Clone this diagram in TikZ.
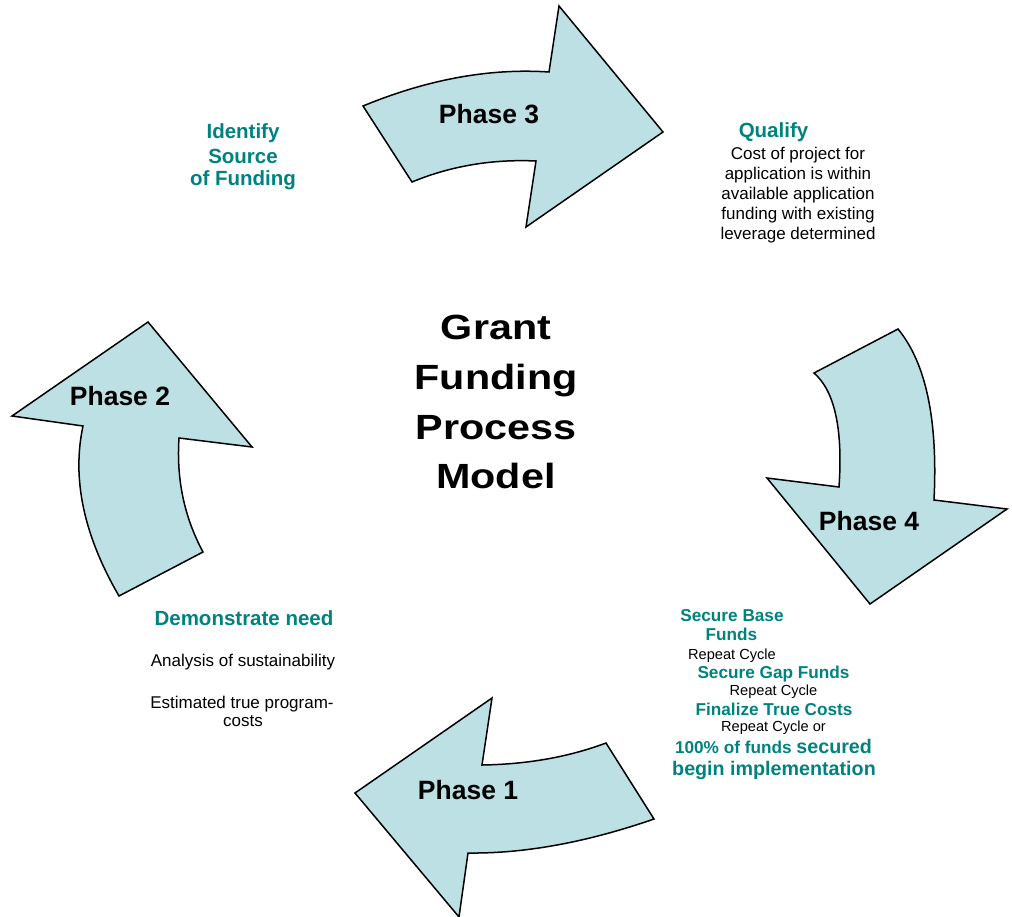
\documentclass[tikz,border=0pt]{standalone}
\usepackage{fontspec}
\setmainfont{Liberation Sans}
\definecolor{tealtxt}{RGB}{0,130,126}
\definecolor{arrowfill}{RGB}{188,224,227}
\begin{document}
\begin{tikzpicture}[x=1pt,y=-1pt,
  phasearrow/.style={draw=black, line width=1.5pt, fill=arrowfill, line join=miter},
  phaselabel/.style={anchor=base, font=\fontsize{26.5}{30}\selectfont\bfseries, inner sep=0pt},
  titleline/.style={anchor=base, font=\fontsize{35}{40}\selectfont\bfseries, inner sep=0pt},
  headtxt/.style={anchor=base, text=tealtxt, font=\fontsize{20.5}{24}\selectfont\bfseries, inner sep=0pt},
  bodytxt/.style={anchor=base, font=\fontsize{17}{20}\selectfont, inner sep=0pt},
  subhead/.style={anchor=base, text=tealtxt, font=\fontsize{17.2}{20}\selectfont\bfseries, inner sep=0pt},
  smalltxt/.style={anchor=base, font=\fontsize{14.6}{17}\selectfont, inner sep=0pt}]
\useasboundingbox (0,0) rectangle (1012,917);

% Phase 3 arrow (top, pointing right)
\draw[phasearrow] (363,106) .. controls (427.7,79.3) and (489.7,68) .. (549,72)
  -- (559,6) -- (663,132) -- (526,227) -- (536,161)
  .. controls (492,159) and (450.7,166) .. (412,182) -- cycle;
% Phase 4 arrow (right, pointing down)
\draw[phasearrow] (814,373) -- (898,329) .. controls (926,363) and (938,420) .. (934,500)
  -- (1007,509) -- (870,604) -- (767,478) -- (839,487)
  .. controls (843,429) and (834.7,391) .. (814,373) -- cycle;
% Phase 1 arrow (bottom, pointing left)
\draw[phasearrow] (606,743) -- (654,819) .. controls (586.7,842.3) and (524.7,853.7) .. (468,853)
  -- (459,917) -- (355,793) -- (492,698) -- (482,765)
  .. controls (527.3,764.3) and (568.7,757) .. (606,743) -- cycle;
% Phase 2 arrow (left, pointing up)
\draw[phasearrow] (119,596) -- (203,552) .. controls (184.3,517.3) and (176.3,479.3) .. (179,438)
  -- (252,447) -- (148,322) -- (12,416) -- (83,426)
  .. controls (71.7,478.7) and (83.7,535.3) .. (119,596) -- cycle;

% Phase labels
\node[phaselabel] (p3) at (489,124) {Phase 3};
\node[phaselabel] (p4) at (869,530.5) {Phase 4};
\node[phaselabel] (p1) at (468,799) {Phase 1};
\node[phaselabel] (p2) at (120,405) {Phase 2};

% Title
\node[titleline] (t1) at (496,339) {\scalebox{1.18}[1]{Grant}};
\node[titleline] (t2) at (496,389) {\scalebox{1.18}[1]{Funding}};
\node[titleline] (t3) at (496,439) {\scalebox{1.18}[1]{Process}};
\node[titleline] (t4) at (496,488) {\scalebox{1.18}[1]{Model}};

% Identify Source of Funding
\node[headtxt] (id1) at (243,138.3) {Identify};
\node[headtxt] (id2) at (243,163.3) {Source};
\node[headtxt] (id3) at (243,186) {of Funding};

% Qualify
\node[headtxt] (q0) at (773.5,137.3) {Qualify};
\node[bodytxt] (q1) at (798,160) {Cost of project for};
\node[bodytxt] (q2) at (798,180) {application is within};
\node[bodytxt] (q3) at (798,200) {available application};
\node[bodytxt] (q4) at (798,220) {funding with existing};
\node[bodytxt] (q5) at (798,239.3) {leverage determined};

% Demonstrate need
\node[headtxt] (d0) at (244,625) {Demonstrate need};
\node[bodytxt] (d1) at (243,666.7) {Analysis of sustainability};
\node[bodytxt] (d2) at (242,708.3) {Estimated true program-};
\node[bodytxt] (d3) at (243,726) {costs};

% Secure funds block
\node[subhead] (s1) at (732,621.7) {Secure Base};
\node[subhead] (s2) at (731.5,640.7) {Funds};
\node[smalltxt] (s3) at (732,659.3) {Repeat Cycle};
\node[subhead] (s4) at (773.5,678.3) {Secure Gap Funds};
\node[smalltxt] (s5) at (773.5,695) {Repeat Cycle};
\node[subhead] (s6) at (774,715) {Finalize True Costs};
\node[smalltxt] (s7) at (773.5,731.7) {Repeat Cycle or};
\node[subhead] (s8) at (773.5,753.3) {100\% of funds {\fontsize{19.7}{22}\selectfont secured}};
\node[headtxt] (s9) at (774,775) {\fontsize{19.7}{22}\selectfont begin implementation};
\end{tikzpicture}
\end{document}
